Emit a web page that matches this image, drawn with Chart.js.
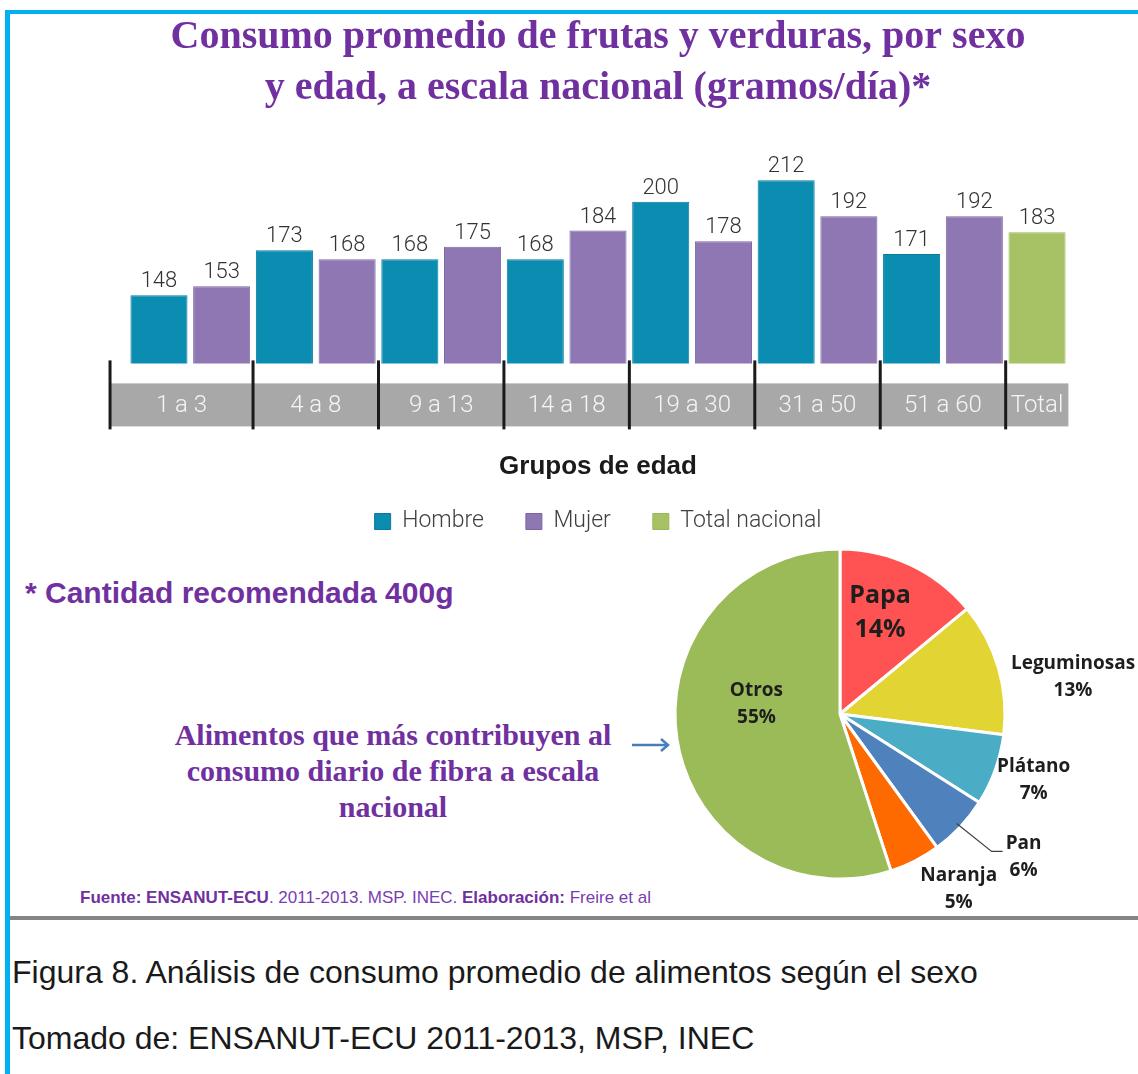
<!DOCTYPE html>
<html><head><meta charset="utf-8">
<script src="https://cdn.jsdelivr.net/npm/chart.js@4.4.1/dist/chart.umd.min.js"></script>
<style>
html,body{margin:0;padding:0;background:#fff;}
body{width:1138px;height:1074px;position:relative;overflow:hidden;font-family:"Liberation Sans",Arial,sans-serif;}
#barWrap{position:absolute;left:0;top:0;width:1138px;height:543px;}
#pieWrap{position:absolute;left:620px;top:540px;width:518px;height:380px;}
.abs{position:absolute;white-space:nowrap;}
#note{left:25px;top:575px;font:bold 30px "Liberation Sans",Arial,sans-serif;color:#7030a0;line-height:36px;}
#fibra{left:143px;top:717px;width:500px;text-align:center;font:bold 30px "Liberation Serif","Times New Roman",serif;color:#7030a0;line-height:36px;}
#fuente{left:80px;top:888px;font:17px "Liberation Sans",Arial,sans-serif;color:#7a3cb0;line-height:20px;}
#fuente b{color:#7030a0;}
#rule{left:5px;top:916px;width:1133px;height:4px;background:#858585;}
#cap1{left:12px;top:952px;font:32px "Liberation Sans",Arial,sans-serif;color:#1a1a1a;line-height:40px;}
#cap2{left:12px;top:1018px;font:32px "Liberation Sans",Arial,sans-serif;color:#1a1a1a;line-height:40px;}
#btop{left:5px;top:10px;width:1133px;height:4px;background:#00b0f0;}
#bleft{left:5px;top:10px;width:5px;height:1064px;background:#00b0f0;}
#arrow{left:628px;top:735px;}
</style>
</head>
<body>
<div id="barWrap"><canvas id="bar" width="1138" height="543"></canvas></div>
<div class="abs" id="note">* Cantidad recomendada 400g</div>
<div class="abs" id="fibra">Alimentos que más contribuyen al<br>consumo diario de fibra a escala<br>nacional</div>
<svg class="abs" id="arrow" width="46" height="20" viewBox="0 0 46 20">
  <line x1="4" y1="10" x2="40" y2="10" stroke="#4a7ebb" stroke-width="2.5"/>
  <polyline points="33,4 40,10 33,16" fill="none" stroke="#4a7ebb" stroke-width="2.5"/>
</svg>
<div class="abs" id="fuente"><b>Fuente: ENSANUT-ECU</b>. 2011-2013. MSP. INEC. <b>Elaboración:</b> Freire et al</div>
<div id="pieWrap"><canvas id="pie" width="518" height="380"></canvas></div>
<div class="abs" id="rule"></div>
<div class="abs" id="cap1">Figura 8. Análisis de consumo promedio de alimentos según el sexo</div>
<div class="abs" id="cap2">Tomado de: ENSANUT-ECU 2011-2013, MSP, INEC</div>
<div class="abs" id="btop"></div>
<div class="abs" id="bleft"></div>
<script>
// ---------- data ----------
const titleLines = ['Consumo promedio de frutas y verduras, por sexo', 'y edad, a escala nacional (gramos/día)*'];
const ageGroups = ['1 a 3','4 a 8','9 a 13','14 a 18','19 a 30','31 a 50','51 a 60'];
const totalLabel = 'Total';
const seriesNames = ['Hombre','Mujer','Total nacional'];
const hombre = [148,173,168,168,200,212,171];
const mujer = [153,168,175,184,178,192,192];
const totalNacional = [183];
const axisTitle = 'Grupos de edad';
const fibraLabels = ['Papa','Leguminosas','Plátano','Pan','Naranja','Otros'];
const fibraValues = [14,13,7,6,5,55];

// ---------- build slot table (one slot per bar) ----------
const slotLabels = [], slotGroup = [], hData = [], mData = [], tData = [];
ageGroups.forEach((g,i)=>{
  slotLabels.push(g+' · '+seriesNames[0]); slotGroup.push(i); hData.push(hombre[i]); mData.push(null); tData.push(null);
  slotLabels.push(g+' · '+seriesNames[1]); slotGroup.push(i); hData.push(null); mData.push(mujer[i]); tData.push(null);
});
totalNacional.forEach(v=>{ slotLabels.push(totalLabel); slotGroup.push(ageGroups.length); hData.push(null); mData.push(null); tData.push(v); });
const groupNames = ageGroups.concat([totalLabel]);

const lightFont = 'Roboto, "Liberation Sans", Arial, sans-serif';

const bandPlugin = {
  id:'band',
  afterDraw(chart){
    const x = chart.scales.x, ctx = chart.ctx, area = chart.chartArea;
    const px = i => x.getPixelForValue(i);
    const step = px(1)-px(0);
    const bounds = [px(0) - step*0.78];
    for (let g=1; g<groupNames.length; g++){ const f = slotGroup.indexOf(g); bounds.push((px(f-1)+px(f))/2); }
    bounds.push(area.right);
    const bandTop = area.bottom + 20, bandBottom = area.bottom + 63;
    ctx.save();
    ctx.fillStyle = '#a8a8a8';
    ctx.fillRect(bounds[0], bandTop, bounds[bounds.length-1]-bounds[0], bandBottom-bandTop);
    ctx.fillStyle = '#f5f5f5';
    ctx.font = '300 24px ' + lightFont;
    ctx.textAlign = 'center'; ctx.textBaseline = 'middle';
    groupNames.forEach((n,g)=> ctx.fillText(n, (bounds[g]+bounds[g+1])/2, (bandTop+bandBottom)/2 + 1));
    ctx.strokeStyle = '#1a1a1a'; ctx.lineWidth = 3;
    for (let g=0; g<groupNames.length; g++){
      ctx.beginPath(); ctx.moveTo(bounds[g], area.bottom-3); ctx.lineTo(bounds[g], bandBottom+3); ctx.stroke();
    }
    ctx.restore();
  }
};

const valuePlugin = {
  id:'values',
  afterDatasetsDraw(chart){
    const ctx = chart.ctx;
    ctx.save();
    ctx.font = '300 22px ' + lightFont;
    ctx.fillStyle = '#333333'; ctx.textAlign = 'center'; ctx.textBaseline = 'alphabetic';
    chart.data.datasets.forEach((ds, di)=>{
      chart.getDatasetMeta(di).data.forEach((el, i)=>{
        const v = ds.data[i]; if (v == null) return;
        ctx.fillText(String(v), el.x, el.y - 8);
      });
    });
    ctx.restore();
  }
};

new Chart(document.getElementById('bar'), {
  type:'bar',
  data:{ labels: slotLabels, datasets:[
    {label: seriesNames[0], data:hData, backgroundColor:'#0b8cb1', borderColor:'#087b9d', borderWidth:1},
    {label: seriesNames[1], data:mData, backgroundColor:'#8f77b3', borderColor:'#7c65a2', borderWidth:1},
    {label: seriesNames[2], data:tData, backgroundColor:'#a6c265', borderColor:'#99b65a', borderWidth:1}
  ]},
  options:{
    responsive:false, animation:false, devicePixelRatio:1,
    layout:{padding:{left:127.6, right:69.6, top:0, bottom:0}},
    datasets:{bar:{categoryPercentage:1, barPercentage:0.91}},
    scales:{
      x:{display:false, stacked:true},
      y:{display:false, min:110, max:230, stacked:false}
    },
    plugins:{
      title:{display:true, text:titleLines, color:'#7030a0',
        font:{family:'"Liberation Serif","Times New Roman",serif', size:40, weight:'bold', lineHeight:1.275},
        padding:{top:12, bottom:34}},
      legend:{position:'bottom',
        title:{display:true, text:axisTitle, color:'#1a1a1a',
          font:{family:'"Liberation Sans",Arial,sans-serif', size:26, weight:'bold', lineHeight:1.1},
          padding:{top:90, bottom:-14}},
        labels:{boxWidth:16, boxHeight:16, padding:42, color:'#404040',
          font:{family:lightFont, size:23, weight:'300'}}},
      tooltip:{enabled:false}
    }
  },
  plugins:[bandPlugin, valuePlugin]
});

// ---------- pie ----------
const pieLabelStyle = [
  {r:0.66, shift:-3.6, size:25, gap:34},
  {r:1.43, shift:7.2},
  {r:1.24, shift:-1},
  {r:1.41, shift:-5.3, leader:true},
  {r:1.28, shift:-7.2},
  {r:0.51, shift:15.8}
];
const pieLabelPlugin = {
  id:'pieLabels',
  afterDatasetsDraw(chart){
    const ctx = chart.ctx, meta = chart.getDatasetMeta(0);
    ctx.save();
    meta.data.forEach((arc,i)=>{
      const st = pieLabelStyle[i];
      const p = arc.getProps(['x','y','startAngle','endAngle','outerRadius'], true);
      const mid = (p.startAngle + p.endAngle)/2;
      const a = mid + st.shift*Math.PI/180;
      const lx = p.x + Math.cos(a)*p.outerRadius*st.r, ly = p.y + Math.sin(a)*p.outerRadius*st.r;
      const size = st.size || 19, gap = st.gap || 27;
      ctx.font = 'bold ' + size + 'px "Open Sans", "Liberation Sans", sans-serif';
      ctx.fillStyle = '#1e1e1e'; ctx.textAlign = 'center'; ctx.textBaseline = 'middle';
      ctx.fillText(fibraLabels[i], lx, ly - gap/2);
      ctx.fillText(fibraValues[i] + '%', lx, ly + gap/2);
      if (st.leader){
        const sx = p.x + Math.cos(mid)*(p.outerRadius-5), sy = p.y + Math.sin(mid)*(p.outerRadius-5);
        const w = ctx.measureText(fibraLabels[i]).width;
        const ex = lx - w/2 - 3, ey = ly - gap/2 + 8;
        ctx.strokeStyle = '#404040'; ctx.lineWidth = 1.2;
        ctx.beginPath(); ctx.moveTo(sx, sy); ctx.lineTo(ex - 11, ey); ctx.lineTo(ex, ey); ctx.stroke();
      }
    });
    ctx.restore();
  }
};
new Chart(document.getElementById('pie'), {
  type:'pie',
  data:{ labels: fibraLabels, datasets:[{ data: fibraValues,
    backgroundColor:['#ff5353','#e2d533','#4bacc6','#4f81bd','#ff6a00','#9bbb59'],
    borderColor:'#ffffff', borderWidth:3 }]},
  options:{
    responsive:false, animation:false, devicePixelRatio:1,
    radius:165,
    layout:{padding:{left:0, right:78, top:0, bottom:32}},
    plugins:{legend:{display:false}, tooltip:{enabled:false}}
  },
  plugins:[pieLabelPlugin]
});
</script>
</body></html>
